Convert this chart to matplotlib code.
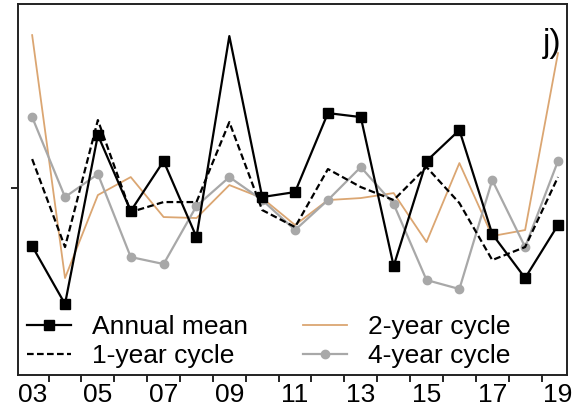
import matplotlib
matplotlib.use("Agg")
import matplotlib.pyplot as plt
import numpy as np

years = list(range(2003, 2020))
label_years = [2003, 2005, 2007, 2009, 2011, 2013, 2015, 2017, 2019]
tick_labels = ["03", "05", "07", "09", "11", "13", "15", "17", "19"]

annual_mean = [-0.58, -1.16, 0.53, -0.23, 0.27, -0.49, 1.52, -0.09, -0.04,
               0.75, 0.71, -0.78, 0.27, 0.58, -0.46, -0.90, -0.37]
cycle_1yr = [0.29, -0.59, 0.68, -0.24, -0.14, -0.14, 0.66, -0.22, -0.39,
             0.19, 0.01, -0.12, 0.21, -0.15, -0.72, -0.59, 0.11]
cycle_2yr = [1.53, -0.90, -0.07, 0.11, -0.29, -0.30, 0.03, -0.10, -0.37,
             -0.12, -0.10, -0.05, -0.54, 0.25, -0.48, -0.42, 1.35]
cycle_4yr = [0.71, -0.09, 0.14, -0.69, -0.76, -0.18, 0.11, -0.12, -0.42,
             -0.12, 0.21, -0.16, -0.92, -1.01, 0.08, -0.59, 0.27]

plt.rcParams['font.family'] = ['Liberation Sans', 'DejaVu Sans']

fig = plt.figure(figsize=(5.72, 4.12), dpi=100)
ax = fig.add_axes([0.0315, 0.0898, 0.9595, 0.9002])

orange = '#dba672'
gray = '#a8a8a8'

l2, = ax.plot(years, cycle_2yr, color=orange, lw=1.3, label='2-year cycle', zorder=2)
l4, = ax.plot(years, cycle_4yr, color=gray, lw=1.6, marker='o', ms=6,
              label='4-year cycle', zorder=3)
l1, = ax.plot(years, cycle_1yr, color='black', lw=1.6, ls=(0, (3, 1.5)),
              label='1-year cycle', zorder=4)
mark_idx = [i for i in range(len(years)) if i != 6]
la, = ax.plot(years, annual_mean, color='black', lw=1.6, marker='s', ms=7,
              markevery=mark_idx, label='Annual mean', zorder=5)

ax.set_xlim(2002.57, 2019.27)
ax.set_ylim(-1.87, 1.84)

ax.set_xticks(label_years)
ax.set_xticklabels(tick_labels, fontsize=19)
ax.set_xticks([y + 0.5 for y in range(2003, 2019)], minor=True)
ax.tick_params(axis='x', which='major', length=0, pad=6)
ax.tick_params(axis='x', which='minor', length=5, width=1.2, direction='out')
ax.set_yticks([0])
ax.set_yticklabels([])
ax.tick_params(axis='y', length=5, width=1.2, direction='out')

for s in ax.spines.values():
    s.set_linewidth(1.4)
    s.set_color('#222222')

ax.text(0.99, 0.895, 'j)', transform=ax.transAxes, ha='right', va='center',
        fontsize=24)

ax.legend(handles=[la, l1, l2, l4], ncol=2, loc='lower left',
          bbox_to_anchor=(-0.012, -0.025), frameon=False, fontsize=19,
          handlelength=1.65, handletextpad=0.8, columnspacing=2.1,
          labelspacing=0.2, borderaxespad=0.2)

fig.savefig('out.png', dpi=100)
